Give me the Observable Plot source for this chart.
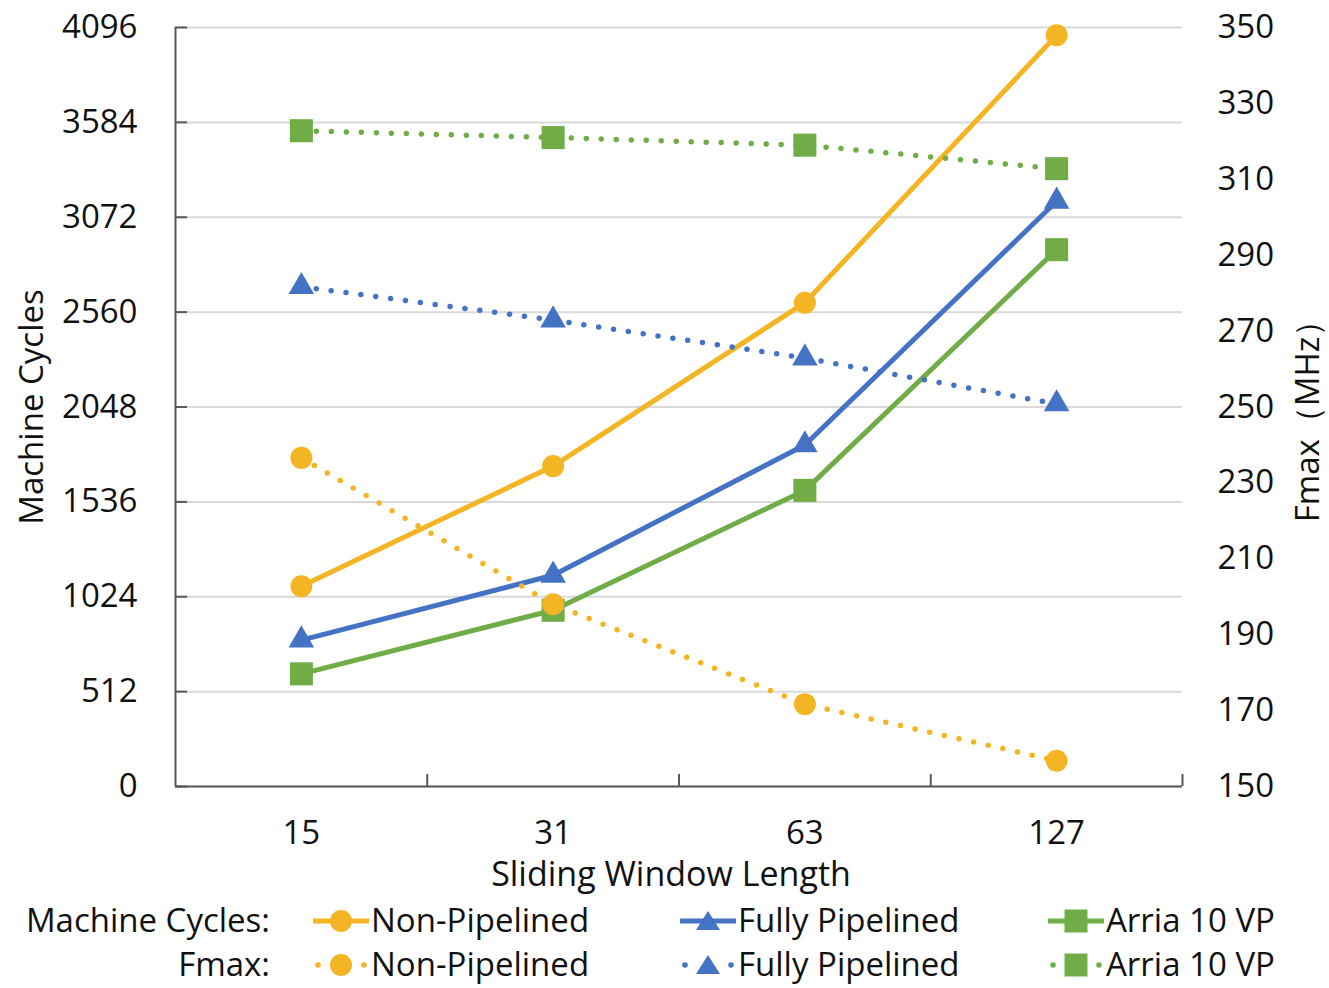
<!DOCTYPE html>
<html><head><meta charset="utf-8">
<script src="https://cdn.jsdelivr.net/npm/d3@7"></script>
<script src="https://cdn.jsdelivr.net/npm/@observablehq/plot@0.6"></script>
<style>
body{margin:0;background:#fff;font-family:"Open Sans",sans-serif;}
#wrap{position:relative;width:1329px;height:988px;overflow:hidden;}
#chart svg{overflow:visible;}
#legend{position:absolute;left:0;top:895px;width:1329px;height:93px;}
.lg{position:absolute;font-size:33px;color:#111;line-height:1.1;white-space:nowrap;transform:translateY(-52%);}
.sw{position:absolute;transform:translateY(-50%);}
</style></head><body><div id="wrap"><div id="chart"></div><div id="legend"></div></div>
<script>
// ---- data ----
const windows = ["15", "31", "63", "127"];
const cyclesNonPipelined = [1081, 1729, 2611, 4054];
const cyclesFullyPipelined = [790, 1140, 1843, 3158];
const cyclesArria = [608, 951, 1598, 2897];
const fmaxNonPipelined = [236.6, 198.0, 171.7, 156.8];
const fmaxFullyPipelined = [281.7, 272.9, 262.9, 250.8];
const fmaxArria = [322.8, 321.0, 319.0, 312.8];
const cycleTicks = [0, 512, 1024, 1536, 2048, 2560, 3072, 3584, 4096];
const fmaxTicks = [150, 170, 190, 210, 230, 250, 270, 290, 310, 330, 350];
const seriesNames = ["Non-Pipelined", "Fully Pipelined", "Arria 10 VP"];

const colors = {"Non-Pipelined": "#F4B524", "Fully Pipelined": "#4472C4", "Arria 10 VP": "#70AD47"};
const symbols = {"Non-Pipelined": "circle", "Fully Pipelined": "triangle", "Arria 10 VP": "square"};
const radii = {"Non-Pipelined": 11, "Fully Pipelined": 9.5, "Arria 10 VP": 13};

// map Fmax (150..350) onto the cycles scale (0..4096)
const fmaxToY = f => (f - 150) / 200 * 4096;
const yToFmax = y => y / 4096 * 200 + 150;

const cycleSets = [cyclesNonPipelined, cyclesFullyPipelined, cyclesArria];
const fmaxSets = [fmaxNonPipelined, fmaxFullyPipelined, fmaxArria];

const cycleRows = [], fmaxRows = [];
seriesNames.forEach((s, si) => {
  windows.forEach((w, i) => {
    cycleRows.push({series: s, idx: i, value: cycleSets[si][i]});
    fmaxRows.push({series: s, idx: i, value: fmaxSets[si][i]});
  });
});

const axisColor = "#595959";
const FONT = 33;
const TITLE = 33;

const marks = [
  Plot.gridY(cycleTicks, {stroke: "#d9d9d9", strokeOpacity: 1, strokeWidth: 2}),
  Plot.ruleX([0], {stroke: axisColor, strokeWidth: 2}),
  Plot.ruleY([0], {stroke: axisColor, strokeWidth: 2}),
  // inward ticks on left axis
  Plot.axisY(cycleTicks, {tickSize: 12, dx: 12, tickFormat: () => "", stroke: axisColor, strokeWidth: 2, label: null}),
  // left labels
  Plot.axisY(cycleTicks, {tickSize: 0, tickPadding: 38, fontSize: FONT, fill: "#111", label: null,
    tickFormat: v => String(v)}),
  // right labels (Fmax)
  Plot.axisY(fmaxTicks.map(fmaxToY), {anchor: "right", tickSize: 0, tickPadding: 35, fontSize: FONT, fill: "#111",
    tickFormat: v => String(Math.round(yToFmax(v))), label: null}),
  // upward ticks between categories
  Plot.axisX([1, 2, 3, 4], {tickSize: 12, dy: -12, tickFormat: () => "", stroke: axisColor, strokeWidth: 2, label: null}),
  // category labels
  Plot.axisX(windows.map((w, i) => i + 0.5), {tickSize: 0, tickPadding: 34, fontSize: FONT, fill: "#111",
    tickFormat: v => windows[Math.floor(v)], label: null}),
  Plot.text(["Machine Cycles"], {frameAnchor: "left", dx: -143, rotate: -90, textAnchor: "middle", lineAnchor: "middle",
    fontSize: TITLE, fill: "#111"}),
  Plot.text(["Fmax（MHz）"], {frameAnchor: "right", dx: 126, dy: 6, rotate: -90, textAnchor: "middle", lineAnchor: "middle",
    fontSize: TITLE, fill: "#111"}),
  Plot.text(["Sliding Window Length"], {frameAnchor: "bottom", dy: 89, dx: -8, textAnchor: "middle", lineAnchor: "middle",
    fontSize: 34, fill: "#111"})
];

// primary (cycles) solid lines
seriesNames.forEach(s => {
  const rows = cycleRows.filter(d => d.series === s);
  marks.push(Plot.line(rows, {x: d => d.idx + 0.5, y: "value", stroke: colors[s], strokeWidth: 5}));
  marks.push(Plot.dot(rows, {x: d => d.idx + 0.5, y: "value", fill: colors[s], symbol: symbols[s], r: radii[s]}));
});
// secondary (Fmax) dotted lines
seriesNames.forEach(s => {
  const rows = fmaxRows.filter(d => d.series === s);
  marks.push(Plot.line(rows, {x: d => d.idx + 0.5, y: d => fmaxToY(d.value), stroke: colors[s], strokeWidth: 5.5,
    strokeDasharray: "0 15", strokeLinecap: "round"}));
  marks.push(Plot.dot(rows, {x: d => d.idx + 0.5, y: d => fmaxToY(d.value), fill: colors[s], symbol: symbols[s], r: radii[s]}));
});

const chart = Plot.plot({
  width: 1329,
  height: 900,
  marginLeft: 175,
  marginRight: 147,
  marginTop: 27,
  marginBottom: 114,
  style: {fontFamily: "'Open Sans', sans-serif", fontSize: FONT + "px", background: "transparent", color: "#111", overflow: "visible"},
  x: {type: "linear", domain: [0, 4]},
  y: {domain: [0, 4096]},
  marks
});
document.getElementById("chart").appendChild(chart);

// ---- legend ----
const legend = document.getElementById("legend");
function addText(txt, x, y, align) {
  const el = document.createElement("div");
  el.className = "lg";
  el.textContent = txt;
  el.style.top = y + "px";
  if (align === "right") { el.style.right = (1329 - x) + "px"; } else { el.style.left = x + "px"; }
  legend.appendChild(el);
}
function markerSvg(s, cx, cy) {
  const c = colors[s];
  if (s === "Non-Pipelined") return `<circle cx="${cx}" cy="${cy}" r="11" fill="${c}"/>`;
  if (s === "Fully Pipelined") return `<path d="M${cx},${cy - 10} L${cx + 12},${cy + 9} L${cx - 12},${cy + 9} Z" fill="${c}"/>`;
  return `<rect x="${cx - 11.5}" y="${cy - 11.5}" width="23" height="23" fill="${c}"/>`;
}
function addSwatch(s, x, y, dotted) {
  const c = colors[s];
  const w = 56, h = 30, cy = 15, cx = 28;
  let inner;
  if (dotted) {
    inner = `<circle cx="5" cy="${cy}" r="2.8" fill="${c}"/><circle cx="${w - 5}" cy="${cy}" r="2.8" fill="${c}"/>` + markerSvg(s, cx, cy);
  } else {
    inner = `<line x1="0" y1="${cy}" x2="${w}" y2="${cy}" stroke="${c}" stroke-width="5"/>` + markerSvg(s, cx, cy);
  }
  const el = document.createElement("div");
  el.className = "sw";
  el.style.left = x + "px";
  el.style.top = y + "px";
  el.innerHTML = `<svg width="${w}" height="${h}" style="display:block">${inner}</svg>`;
  legend.appendChild(el);
}
const row1 = 26, row2 = 70;
addText("Machine Cycles:", 270, row1, "right");
addText("Fmax:", 270, row2, "right");
const colX = [313, 680, 1048];
seriesNames.forEach((s, i) => {
  addSwatch(s, colX[i], row1, false);
  addSwatch(s, colX[i], row2, true);
  addText(s, colX[i] + 58, row1, "left");
  addText(s, colX[i] + 58, row2, "left");
});
</script>
</body></html>
